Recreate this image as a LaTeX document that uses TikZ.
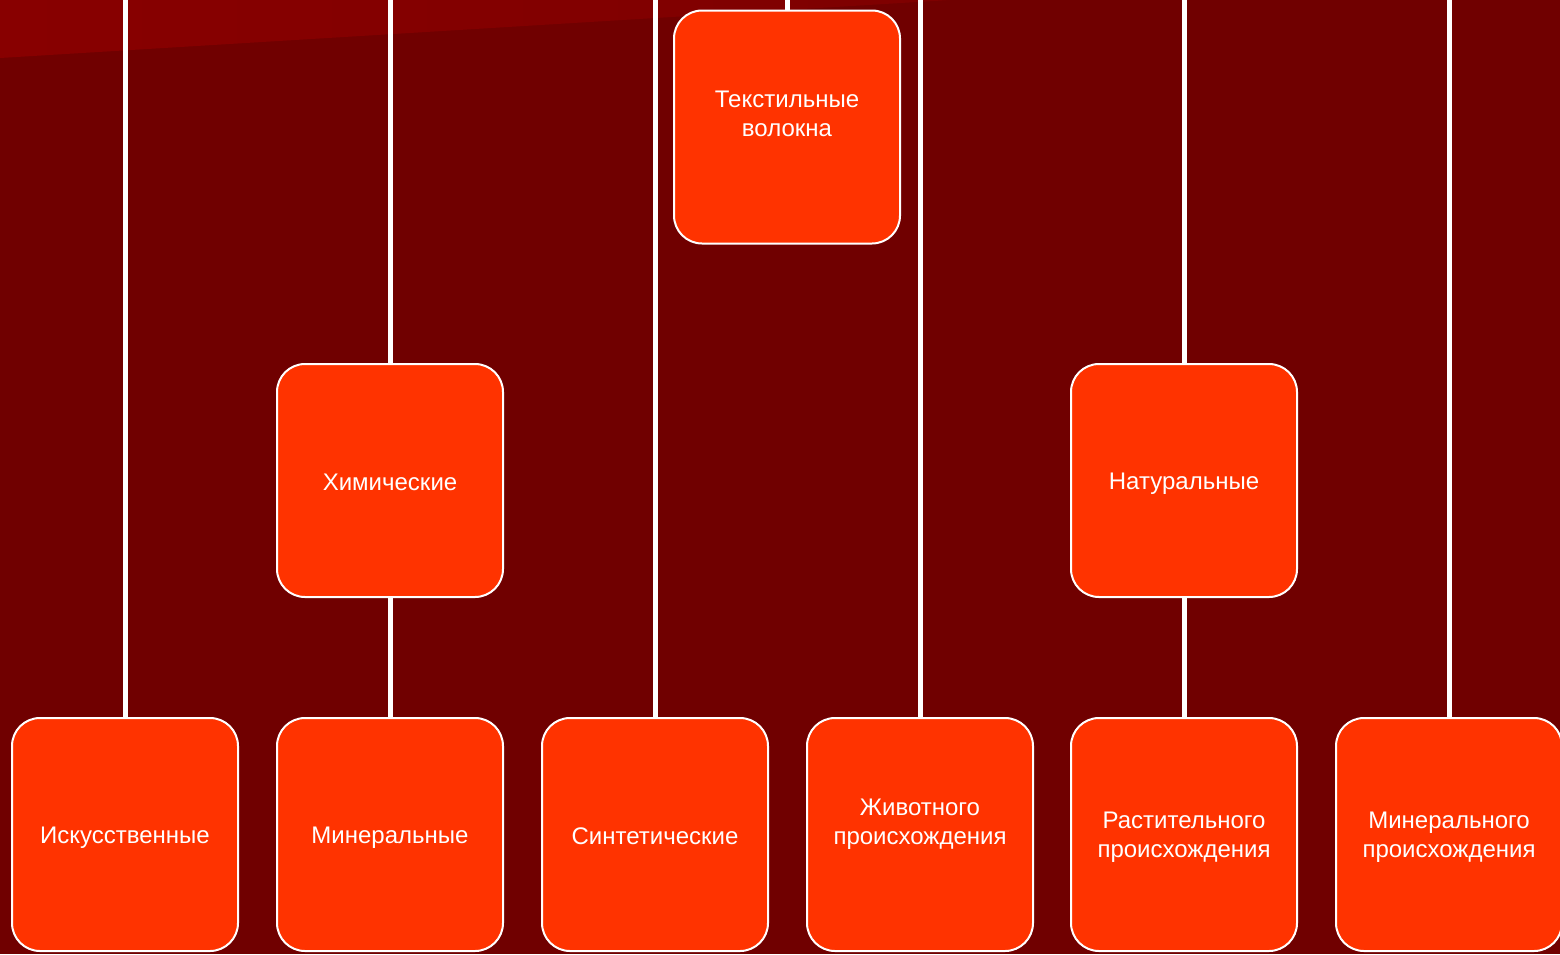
\documentclass[tikz,border=0pt]{standalone}
\usepackage{fontspec}
\setmainfont{Liberation Sans}
\definecolor{bgdark}{RGB}{112,0,0}
\definecolor{bglight}{RGB}{136,0,0}
\definecolor{bglightb}{RGB}{126,0,0}
\definecolor{boxfill}{RGB}{255,51,0}
\newcommand\lnstrut{\rule[-3pt]{0pt}{25pt}}
\begin{document}
\begin{tikzpicture}[x=1pt,y=-1pt,
  box/.style={draw=white, line width=2pt, fill=boxfill, rounded corners=28pt,
    minimum width=226pt, minimum height=233pt, align=center, text=white,
    font=\fontsize{24}{29}\selectfont, inner sep=0pt},
  link/.style={draw=white, line width=5pt}]
\useasboundingbox (0,0) rectangle (1560,954);
\clip (0,0) rectangle (1560,954);
\fill[bgdark] (0,0) rectangle (1560,954);
\shade[left color=bglight, right color=bglightb] (0,0) -- (950,0) -- (0,58) -- cycle;

% free ends at the top edge
\coordinate (t1) at (125,0);
\coordinate (t2) at (390,0);
\coordinate (t3) at (655,0);
\coordinate (t4) at (787,0);
\coordinate (t5) at (920,0);
\coordinate (t6) at (1184,0);
\coordinate (t7) at (1449,0);

% boxes
\node[box] (root) at (787,127) {\lnstrut Текстильные\\\lnstrut волокна\\\lnstrut};
\node[box] (chem) at (390,480.5) {\lnstrut Химические};
\node[box] (nat) at (1184,480.5) {\lnstrut Натуральные};
\node[box] (art) at (125,834.5) {\lnstrut Искусственные};
\node[box] (min) at (390,834.5) {\lnstrut Минеральные};
\node[box] (syn) at (655,834.5) {\lnstrut Синтетические};
\node[box] (anim) at (920,834.5) {\lnstrut Животного\\\lnstrut происхождения\\\lnstrut};
\node[box] (plant) at (1184,834.5) {\lnstrut Растительного\\\lnstrut происхождения};
\node[box] (mineral) at (1449,834.5) {\lnstrut Минерального\\\lnstrut происхождения};

% connectors
\draw[link] (t1) -- (art.north);
\draw[link] (t2) -- (chem.north);
\draw[link] (chem.south) -- (min.north);
\draw[link] (t3) -- (syn.north);
\draw[link] (t4) -- (root.north);
\draw[link] (t5) -- (anim.north);
\draw[link] (t6) -- (nat.north);
\draw[link] (nat.south) -- (plant.north);
\draw[link] (t7) -- (mineral.north);
\end{tikzpicture}
\end{document}
